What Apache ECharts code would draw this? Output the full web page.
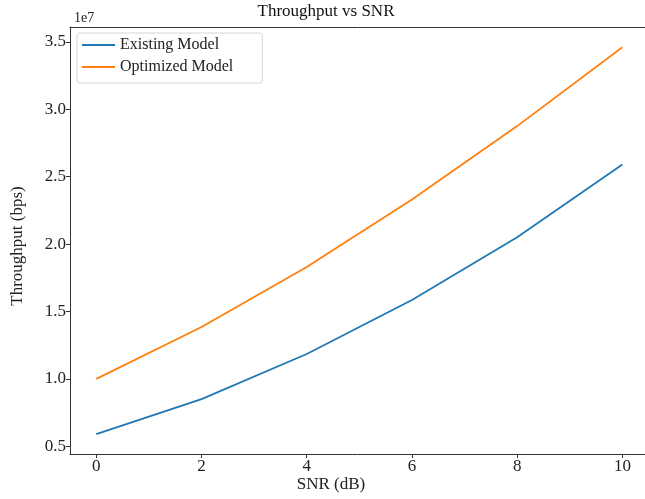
<!DOCTYPE html>
<html>
<head>
<meta charset="utf-8">
<script src="https://cdn.jsdelivr.net/npm/echarts@6/dist/echarts.min.js"></script>
<style>
html,body{margin:0;padding:0;background:#fff;}
#chart{width:645px;height:499px;}
</style>
</head>
<body>
<div id="chart"></div>
<script>
// Data (throughput in units of 1e7 bps)
var snr = [0, 2, 4, 6, 8, 10];
var existing = [0.59, 0.85, 1.185, 1.585, 2.05, 2.59];
var optimized = [1.0, 1.385, 1.83, 2.33, 2.875, 3.46];
var xTicks = [0, 2, 4, 6, 8, 10];
var yTicks = [0.5, 1.0, 1.5, 2.0, 2.5, 3.0, 3.5];
var seriesNames = ['Existing Model', 'Optimized Model'];

var font = '"Liberation Serif", "DejaVu Serif", serif';
var chart = echarts.init(document.getElementById('chart'), null, {renderer: 'canvas'});

function pairs(xs, ys) { return xs.map(function (x, i) { return [x, ys[i]]; }); }

var axisCommon = {
  axisLine: {show: true, onZero: false, lineStyle: {color: '#333', width: 1}},
  splitLine: {show: false}
};

var option = {
  animation: false,
  backgroundColor: '#ffffff',
  grid: {left: 70, top: 27, width: 575, height: 427, show: false},
  legend: {
    orient: 'vertical', left: 77, top: 33,
    data: seriesNames,
    icon: 'rect', itemWidth: 33, itemHeight: 2, itemGap: 6,
    padding: [4, 29, 8, 5],
    backgroundColor: 'rgba(255,255,255,0.8)', borderColor: '#d6d6d6', borderWidth: 1, borderRadius: 3,
    textStyle: {fontFamily: font, fontSize: 16, color: '#222'}
  },
  xAxis: [
    Object.assign({
      type: 'value', min: -0.5, max: 10.43, position: 'bottom',
      axisTick: {show: true, length: 4, customValues: xTicks, lineStyle: {color: '#333'}},
      axisLabel: {customValues: xTicks, fontFamily: font, fontSize: 17, color: '#222', margin: 4}
    }, axisCommon),
    Object.assign({
      type: 'value', min: -0.5, max: 10.43, position: 'top',
      axisTick: {show: false}, axisLabel: {show: false}
    }, axisCommon)
  ],
  yAxis: Object.assign({
    type: 'value', min: 0.443, max: 3.61,
    axisTick: {show: true, length: 4, customValues: yTicks, lineStyle: {color: '#333'}},
    axisLabel: {customValues: yTicks, fontFamily: font, fontSize: 17, color: '#222', margin: 4,
      formatter: function (v) { return v.toFixed(1); }}
  }, axisCommon),
  graphic: [
    {type: 'text', x: 326, y: 12, style: {text: 'Throughput vs SNR', font: '17px ' + font, fill: '#111', textAlign: 'center', textVerticalAlign: 'middle'}},
    {type: 'text', x: 74, y: 11, style: {text: '1e7', font: '14px ' + font, fill: '#222'}},
    {type: 'text', x: 331, y: 485, style: {text: 'SNR (dB)', font: '17px ' + font, fill: '#222', textAlign: 'center', textVerticalAlign: 'middle'}},
    {type: 'text', x: 18, y: 246, rotation: Math.PI / 2, style: {text: 'Throughput (bps)', font: '17px ' + font, fill: '#222', textAlign: 'center', textVerticalAlign: 'middle'}}
  ],
  series: [
    {name: seriesNames[0], type: 'line', data: pairs(snr, existing), showSymbol: false, symbol: 'none', color: '#1f77b4', lineStyle: {width: 1.8, color: '#1f77b4'}},
    {name: seriesNames[1], type: 'line', data: pairs(snr, optimized), showSymbol: false, symbol: 'none', color: '#ff7f0e', lineStyle: {width: 1.8, color: '#ff7f0e'}}
  ]
};
chart.setOption(option);
</script>
</body>
</html>
